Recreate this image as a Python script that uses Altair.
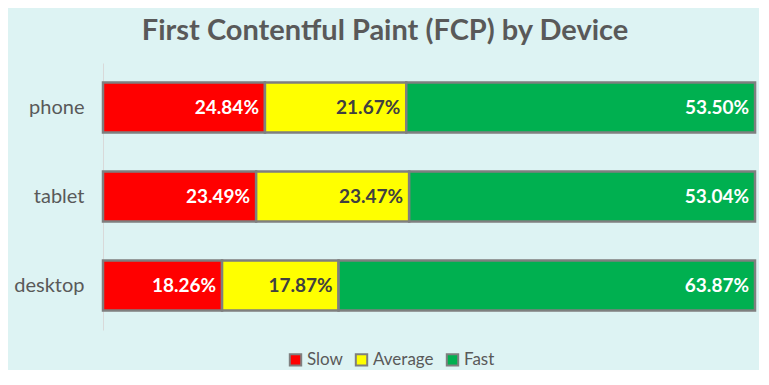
import altair as alt
import pandas as pd

devices = ["phone", "tablet", "desktop"]
categories = ["Slow", "Average", "Fast"]
slow = [24.84, 23.49, 18.26]
average = [21.67, 23.47, 17.87]
fast = [53.50, 53.04, 63.87]
colors = ["#FF0000", "#FFFF00", "#00B050"]

rows = []
for i, d in enumerate(devices):
    for j, (c, vals) in enumerate(zip(categories, [slow, average, fast])):
        rows.append({"device": d, "category": c, "value": vals[i], "order": j})
df = pd.DataFrame(rows)

FONT = "Lato"
GREY = "#595959"

base = alt.Chart(df).transform_stack(
    stack="value", as_=["x0", "x1"], groupby=["device"], sort=[alt.SortField("order", order="ascending")]
).transform_calculate(label="format(datum.value, '.2f') + '%'")

yenc = alt.Y(
    "device:N",
    sort=devices,
    scale=alt.Scale(paddingInner=0.44, paddingOuter=0.22),
    axis=alt.Axis(
        title=None, ticks=False, domain=True, domainColor="#D9D9D9", domainWidth=1,
        labelFont=FONT, labelFontSize=20, labelColor=GREY, labelPadding=19,
        minExtent=84, maxExtent=84,
    ),
)

bars = base.mark_bar(stroke="#7F7F7F", strokeWidth=2.5).encode(
    x=alt.X("x0:Q", scale=alt.Scale(domain=[0, 100]), axis=None),
    x2="x1:Q",
    y=yenc,
    color=alt.Color(
        "category:N",
        scale=alt.Scale(domain=categories, range=colors),
        legend=alt.Legend(
            title=None, orient="none", legendX=184, legendY=288, direction="horizontal",
            symbolType="square", symbolSize=130, symbolStrokeColor="#7F7F7F", symbolStrokeWidth=2,
            labelFont=FONT, labelFontSize=17, labelColor=GREY, columnPadding=8, labelOffset=3,
            symbolOpacity=1, padding=0,
        ),
    ),
    order=alt.Order("order:Q"),
)

text = base.mark_text(align="right", dx=-6, font=FONT, fontSize=19, fontWeight="bold").encode(
    x=alt.X("x1:Q", scale=alt.Scale(domain=[0, 100]), axis=None),
    y=yenc,
    text="label:N",
    color=alt.condition(alt.datum.category == "Average", alt.value("#404040"), alt.value("#FFFFFF")),
)

chart = (
    alt.layer(bars, text)
    .properties(
        width=652,
        height=267,
        background="#DDF3F3",
        padding={"top": 9, "left": 5, "right": 2, "bottom": 0},
        title=alt.TitleParams(
            "First Contentful Paint (FCP) by Device",
            font=FONT, fontSize=29, fontWeight="bold", color=GREY,
            anchor="middle", frame="bounds", offset=17,
        ),
    )
    .configure_view(stroke=None)
)

chart.save("out.html", embed_options={"renderer": "svg", "actions": False})
